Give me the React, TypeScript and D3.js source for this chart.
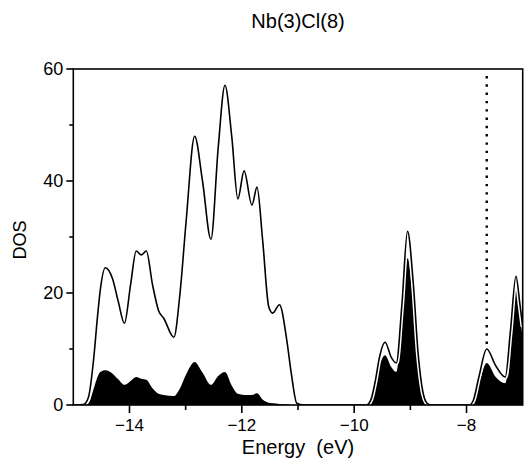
import { useEffect, useRef } from 'react';
import * as d3 from 'd3';

// energy grid (eV) and DOS values
const energy = [
  -15.0, -14.82, -14.73, -14.64, -14.57, -14.52, -14.43, -14.3, -14.2, -14.09,
  -13.98, -13.88, -13.79, -13.7, -13.59, -13.48, -13.39, -13.21, -13.1, -12.99,
  -12.84, -12.7, -12.55, -12.42, -12.3, -12.18, -12.07, -11.96, -11.82, -11.73,
  -11.63, -11.52, -11.45, -11.33, -11.2, -11.12, -11.02, -10.9, -9.78, -9.7,
  -9.62, -9.55, -9.45, -9.34, -9.25, -9.15, -9.05, -8.95, -8.86, -8.78,
  -8.7, -8.62, -7.95, -7.88, -7.78, -7.64, -7.48, -7.31, -7.22, -7.12,
  -7.05, -7.0,
];
const totalDos = [
  0, 0.1, 1.4, 8, 15.7, 20.5, 24.5, 22.5, 18.5, 14.6,
  21.5, 27.5, 26.8, 27.5, 21.5, 16.8, 15.5, 12.1, 20, 33,
  48, 40, 29.6, 46, 57.1, 48, 36.8, 41.8, 35.7, 38.9,
  29.5, 17.5, 16.4, 17.9, 11.6, 5.7, 0.3, 0, 0, 1.0,
  4.5, 8.5, 11.2, 8.5, 7.5, 18, 31, 22, 9, 2.5,
  0.3, 0, 0, 0.8, 5, 10, 7, 5, 13, 23,
  18, 14,
];
const projDos = [
  0, 0, 0.3, 2.8, 5.0, 5.9, 6.2, 5.6, 4.6, 3.6,
  4.3, 5.0, 4.7, 4.5, 3.0, 2.0, 1.8, 1.6, 3, 5.5,
  7.7, 5.8, 3.6, 5.2, 5.9, 3.5, 2.0, 1.8, 1.8, 2.1,
  1.0, 0.4, 0.3, 0.2, 0.1, 0, 0, 0, 0, 0.8,
  3.8, 7.0, 8.9, 6.8, 5.9, 15, 26.2, 18.5, 7.5, 2,
  0.2, 0, 0, 0.6, 3.8, 7.5, 5, 3.9, 11, 21,
  16, 12,
];
const xMajorTicks = [-14, -12, -10, -8];
const xMinorTicks = [-13, -11, -9];
const yMajorTicks = [0, 20, 40, 60];
const yMinorTicks = [10, 30, 50];
const fermiLevel = -7.64;

const font = 'Liberation Sans, Arial, sans-serif';

const App = () => {
  const svgRef = useRef<SVGSVGElement>(null);

  useEffect(() => {
    if (!svgRef.current) return;
    const svg = d3.select(svgRef.current);
    svg.selectAll('*').remove();

    const left = 73.3, right = 522.7, top = 69, bottom = 405;

    const x = d3.scaleLinear().domain([-15, -7]).range([left, right]);
    const y = d3.scaleLinear().domain([0, 60]).range([bottom, top]);

    const pts = energy.map((e, i) => ({ e, t: totalDos[i], p: projDos[i] }));

    svg.append('clipPath').attr('id', 'plotclip')
      .append('rect')
      .attr('x', left).attr('y', top - 5)
      .attr('width', right - left).attr('height', bottom - top + 5);

    const plot = svg.append('g').attr('clip-path', 'url(#plotclip)');

    // projected DOS, filled black
    const area = d3.area<{ e: number; t: number; p: number }>()
      .x(d => x(d.e))
      .y0(y(0))
      .y1(d => y(d.p))
      .curve(d3.curveMonotoneX);
    plot.append('path').datum(pts).attr('d', area).attr('fill', '#000');

    // total DOS line with white halo
    const line = d3.line<{ e: number; t: number; p: number }>()
      .x(d => x(d.e))
      .y(d => y(d.t))
      .curve(d3.curveMonotoneX);
    plot.append('path').datum(pts).attr('d', line)
      .attr('fill', 'none').attr('stroke', '#fff').attr('stroke-width', 4.5);
    plot.append('path').datum(pts).attr('d', line)
      .attr('fill', 'none').attr('stroke', '#000').attr('stroke-width', 1.6);

    // Fermi level, dotted
    const fermiTop = totalDos[energy.indexOf(fermiLevel)];
    svg.append('line')
      .attr('x1', x(fermiLevel)).attr('x2', x(fermiLevel))
      .attr('y1', top + 7).attr('y2', y(fermiTop) - 2)
      .attr('stroke', '#000').attr('stroke-width', 2.4)
      .attr('stroke-dasharray', '2.4 5.9');

    // frame
    svg.append('rect')
      .attr('x', left).attr('y', top)
      .attr('width', right - left).attr('height', bottom - top)
      .attr('fill', 'none').attr('stroke', '#000').attr('stroke-width', 1.6);

    // x ticks
    const xt = svg.append('g');
    xMajorTicks.forEach(v => {
      xt.append('line').attr('x1', x(v)).attr('x2', x(v))
        .attr('y1', bottom).attr('y2', bottom + 8)
        .attr('stroke', '#000').attr('stroke-width', 1.6);
      xt.append('text').attr('x', x(v)).attr('y', bottom + 26)
        .attr('text-anchor', 'middle')
        .style('font-family', font).style('font-size', '17px')
        .text('\u2212' + Math.abs(v));
    });
    xMinorTicks.forEach(v => {
      xt.append('line').attr('x1', x(v)).attr('x2', x(v))
        .attr('y1', bottom).attr('y2', bottom + 5)
        .attr('stroke', '#000').attr('stroke-width', 1.6);
    });

    // y ticks
    const yt = svg.append('g');
    yMajorTicks.forEach(v => {
      yt.append('line').attr('x1', left - 7).attr('x2', left)
        .attr('y1', y(v)).attr('y2', y(v))
        .attr('stroke', '#000').attr('stroke-width', 1.6);
      yt.append('text').attr('x', left - 10).attr('y', y(v) + 6)
        .attr('text-anchor', 'end')
        .style('font-family', font).style('font-size', '18px')
        .text(String(v));
    });
    yMinorTicks.forEach(v => {
      yt.append('line').attr('x1', left - 4).attr('x2', left)
        .attr('y1', y(v)).attr('y2', y(v))
        .attr('stroke', '#000').attr('stroke-width', 1.6);
    });

    // labels
    svg.append('text')
      .attr('x', 298).attr('y', 28)
      .attr('text-anchor', 'middle')
      .style('font-family', font).style('font-size', '20px')
      .text('Nb(3)Cl(8)');

    svg.append('text')
      .attr('x', 298).attr('y', 454)
      .attr('text-anchor', 'middle')
      .style('font-family', font).style('font-size', '20px')
      .style('white-space', 'pre')
      .text('Energy  (eV)');

    svg.append('text')
      .attr('transform', 'translate(26,240) rotate(-90)')
      .attr('text-anchor', 'middle')
      .style('font-family', font).style('font-size', '18px')
      .text('DOS');
  }, []);

  return (
    <svg ref={svgRef} width="524" height="462" viewBox="0 0 524 462"
      style={{ position: 'absolute', left: 0, top: 0, background: '#fff' }} />
  );
};

export default App;
